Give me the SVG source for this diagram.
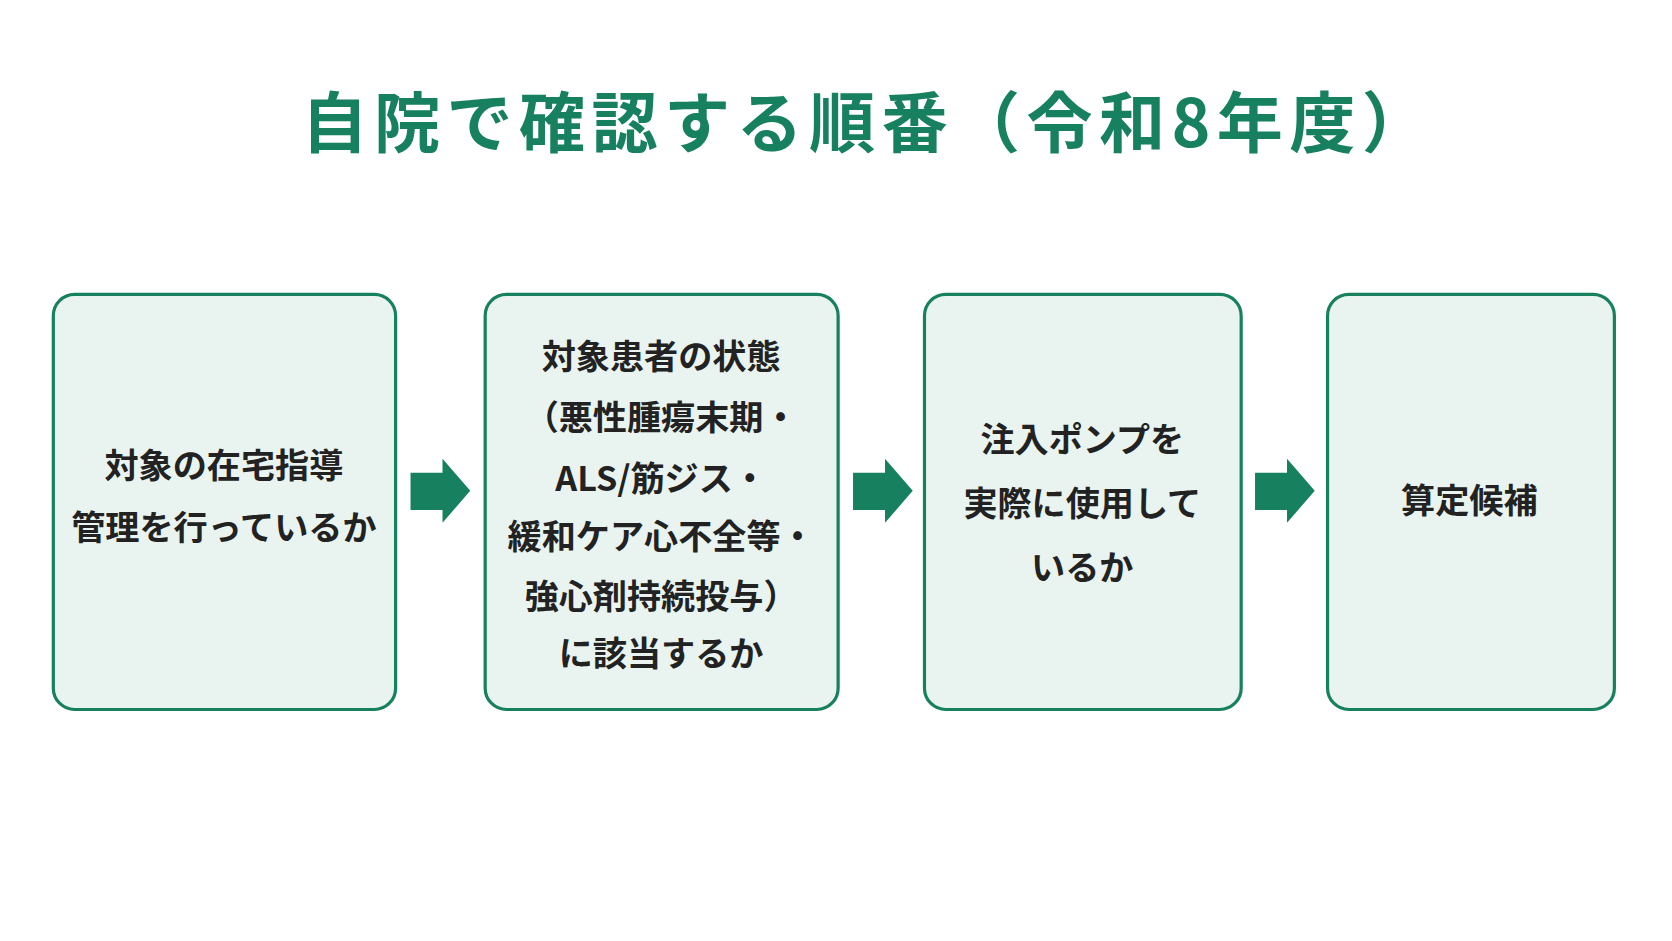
<svg xmlns="http://www.w3.org/2000/svg" width="1672" height="941" viewBox="0 0 1672 941">
<style>
.box{fill:#e9f4f0;stroke:#17805f;stroke-width:3}
.t{font-family:"Noto Sans CJK JP","Noto Sans",sans-serif;font-weight:bold;font-size:32px;fill:#222;text-anchor:middle}
.arr{fill:#17805f}
</style>
<rect width="1672" height="941" fill="#fff"/>
<g transform="scale(1.0663,1.0669)">
<text id="title" x="814" y="138" style="font-family:'Noto Sans CJK JP',sans-serif;font-weight:bold;font-size:62px;fill:#17805f;text-anchor:middle;letter-spacing:6px">自院で確認する順番（令和8年度）</text>
<g id="n1"><rect class="box" x="50" y="276" width="321" height="389" rx="20"/>
<text class="t" x="210" y="448">対象の在宅指導</text><text class="t" x="210" y="506">管理を行っているか</text></g>
<g id="n2"><rect class="box" x="455" y="276" width="331" height="389" rx="20"/>
<text class="t" x="620" y="346">対象患者の状態</text>
<text class="t" x="620" y="403">（悪性腫瘍末期・</text>
<text class="t" x="620" y="460">ALS/筋ジス・</text>
<text class="t" x="620" y="515">緩和ケア心不全等・</text>
<text class="t" x="620" y="571">強心剤持続投与）</text>
<text class="t" x="620" y="624">に該当するか</text></g>
<g id="n3"><rect class="box" x="867" y="276" width="297" height="389" rx="20"/>
<text class="t" x="1015" y="424">注入ポンプを</text><text class="t" x="1015" y="484">実際に使用して</text><text class="t" x="1015" y="544">いるか</text></g>
<g id="n4"><rect class="box" x="1245" y="276" width="269" height="389" rx="20"/>
<text class="t" x="1378" y="481">算定候補</text></g>
<g id="connectors">
<path class="arr" d="M385,443 H415 V430 L441,460 L415,490 V478 H385 Z"/>
<path class="arr" d="M800,443 H830 V430 L856,460 L830,490 V478 H800 Z"/>
<path class="arr" d="M1177,443 H1207 V430 L1233,460 L1207,490 V478 H1177 Z"/>
</g>
</g>
</svg>
